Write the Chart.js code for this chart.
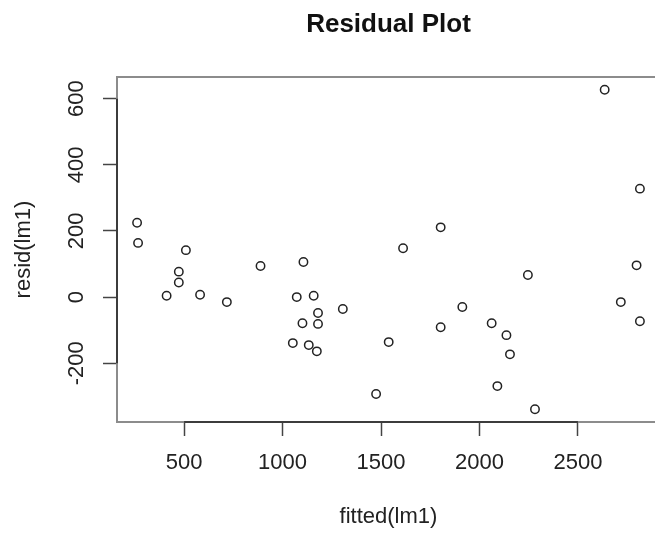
<!DOCTYPE html>
<html>
<head>
<meta charset="utf-8">
<title>Residual Plot</title>
<script src="https://cdn.jsdelivr.net/npm/chart.js@4"></script>
<style>
  html, body { margin: 0; padding: 0; background: #fff; overflow: hidden; width: 655px; height: 533px; }
  canvas { display: block; }
</style>
</head>
<body>
<canvas id="residChart" width="680" height="533"></canvas>
<script>
// values
const fitted = [261, 266, 509, 2636, 2815, 1803, 1612, 473, 473, 411, 581, 717,
    888, 1106, 1072, 1158, 1180, 1306, 1101, 1180, 1052, 1133, 1174, 2798,
    2246, 2718, 2815, 1913, 1803, 2062, 2137, 2155, 1539, 1475, 2091, 2282];
const resid = [225, 164, 142, 627, 328, 211, 148, 77, 44, 4, 7, -15,
    94, 106, 0, 4, -48, -36, -79, -81, -139, -145, -164, 96,
    67, -15, -73, -30, -91, -79, -115, -173, -136, -293, -269, -339];
const xTicks = [500, 1000, 1500, 2000, 2500];
const yTicks = [-200, 0, 200, 400, 600];

const FONT = "'Liberation Sans', Arial, Helvetica, sans-serif";

// box around the plot region, darker axis line between first and last tick
const frame = {
    id: 'frame',
    afterDraw(chart) {
        const ctx = chart.ctx;
        const a = chart.chartArea;
        const xs = chart.scales.x, ys = chart.scales.y;
        ctx.save();
        ctx.strokeStyle = '#8c8c8c';
        ctx.lineWidth = 2;
        ctx.strokeRect(a.left, a.top, a.right - a.left, a.bottom - a.top);
        ctx.strokeStyle = '#3c3c3c';
        ctx.lineWidth = 2;
        ctx.beginPath();
        ctx.moveTo(xs.getPixelForValue(xTicks[0]), a.bottom);
        ctx.lineTo(xs.getPixelForValue(xTicks[xTicks.length - 1]), a.bottom);
        ctx.moveTo(a.left, ys.getPixelForValue(yTicks[0]));
        ctx.lineTo(a.left, ys.getPixelForValue(yTicks[yTicks.length - 1]));
        ctx.stroke();
        ctx.restore();
    }
};

new Chart(document.getElementById('residChart').getContext('2d'), {
    type: 'scatter',
    data: {
        datasets: [{
            data: fitted.map((x, i) => ({ x: x, y: resid[i] })),
            pointStyle: 'circle',
            pointRadius: 4.2,
            pointBorderWidth: 1.5,
            pointBorderColor: '#222',
            pointBackgroundColor: 'rgba(0,0,0,0)'
        }]
    },
    options: {
        responsive: false,
        animation: false,
        layout: { padding: { left: 0, right: 20, top: 0, bottom: 0 } },
        plugins: {
            legend: { display: false },
            tooltip: { enabled: false },
            title: {
                display: true,
                text: 'Residual Plot',
                fullSize: false,
                color: '#111',
                font: { family: FONT, size: 26, weight: 'bold' },
                padding: { top: 9, bottom: 36.8 }
            }
        },
        scales: {
            x: {
                type: 'linear',
                min: 159,
                max: 2917,
                afterBuildTicks: s => { s.ticks = xTicks.map(v => ({ value: v })); },
                afterFit: s => { s.height = 111; },
                border: { display: false },
                grid: { drawOnChartArea: false, drawTicks: true, tickLength: 14, tickColor: '#444', tickWidth: 1.5 },
                ticks: { color: '#222', padding: 13.8, maxRotation: 0, font: { family: FONT, size: 22 }, callback: v => String(v) },
                title: { display: true, text: 'fitted(lm1)', color: '#222', font: { family: FONT, size: 22 }, padding: { top: 0, bottom: 2.8 } }
            },
            y: {
                type: 'linear',
                min: -377.6,
                max: 665.6,
                afterBuildTicks: s => { s.ticks = yTicks.map(v => ({ value: v })); },
                afterFit: s => { s.width = 117; },
                border: { display: false },
                grid: { drawOnChartArea: false, drawTicks: true, tickLength: 14, tickColor: '#444', tickWidth: 1.5 },
                ticks: { color: '#222', padding: 4.3, minRotation: 90, maxRotation: 90, crossAlign: 'center', font: { family: FONT, size: 22 }, callback: v => String(v) },
                title: { display: true, text: 'resid(lm1)', color: '#222', font: { family: FONT, size: 22 }, padding: { top: 10.8, bottom: 0 } }
            }
        }
    },
    plugins: [frame]
});
</script>
</body>
</html>
